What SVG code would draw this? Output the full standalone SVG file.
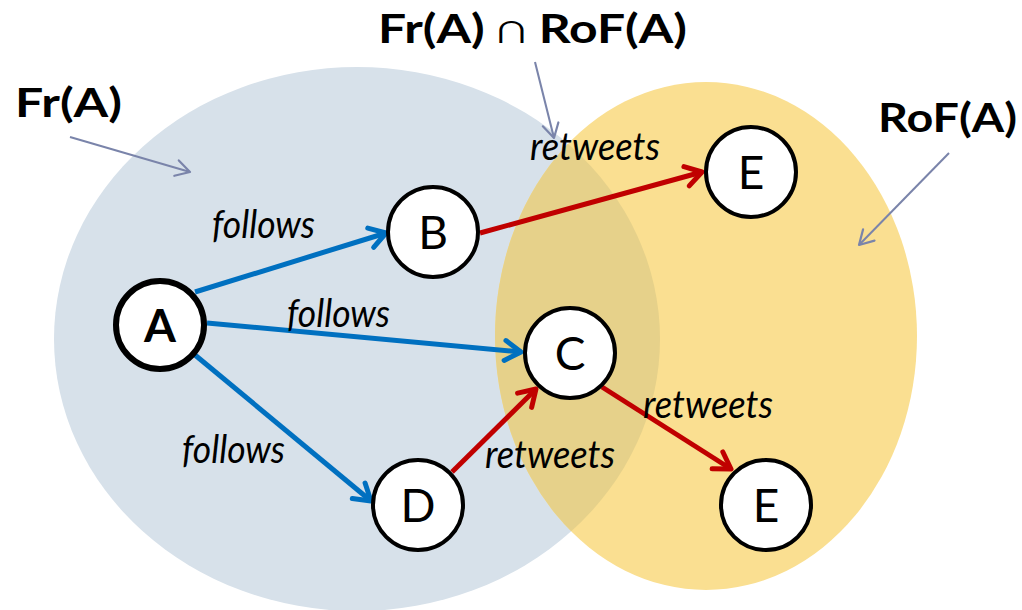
<svg xmlns="http://www.w3.org/2000/svg" width="1022" height="610" viewBox="0 0 1022 610">
  <style>
    .set-label { font-family: Lato, "Liberation Sans", sans-serif; font-weight: bold; font-size: 40px; fill: #000; }
    .edge-label { font-family: Lato, "Liberation Sans", sans-serif; font-style: italic; font-size: 38px; fill: #000; }
    .node circle { fill: #fff; stroke: #000; stroke-width: 4; }
    .node text { font-family: Lato, "Liberation Sans", sans-serif; font-size: 46px; fill: #000; text-anchor: middle; }
    .follows { stroke: #0070C0; stroke-width: 5; fill: none; marker-end: url(#arrow-blue); }
    .retweets { stroke: #C00000; stroke-width: 5; fill: none; marker-end: url(#arrow-red); }
    .pointer { stroke: #7A84AA; stroke-width: 2; fill: none; marker-end: url(#arrow-pointer); }
  </style>
  <defs>
    <marker id="arrow-blue" markerUnits="userSpaceOnUse" viewBox="0 0 26 26" markerWidth="26" markerHeight="26" refX="22" refY="13" orient="auto">
      <path d="M6,3 L22,13 L6,23" fill="none" stroke="#0070C0" stroke-width="5" stroke-linecap="round" stroke-linejoin="round"/>
    </marker>
    <marker id="arrow-red" markerUnits="userSpaceOnUse" viewBox="0 0 26 26" markerWidth="26" markerHeight="26" refX="22" refY="13" orient="auto">
      <path d="M6,3 L22,13 L6,23" fill="none" stroke="#C00000" stroke-width="5" stroke-linecap="round" stroke-linejoin="round"/>
    </marker>
    <marker id="arrow-pointer" markerUnits="userSpaceOnUse" viewBox="0 0 20 20" markerWidth="20" markerHeight="20" refX="18" refY="10" orient="auto">
      <path d="M4,2 L18,10 L4,18" fill="none" stroke="#7A84AA" stroke-width="2.2" stroke-linecap="round" stroke-linejoin="round"/>
    </marker>
    <clipPath id="fr-clip">
      <ellipse cx="357" cy="339" rx="303" ry="272"/>
    </clipPath>
  </defs>

  <rect width="1022" height="610" fill="#fff"/>

  <!-- set regions -->
  <g id="sets">
    <ellipse id="fr-set" cx="357" cy="339" rx="303" ry="272" fill="#D7E1EA"/>
    <ellipse id="rof-set" cx="706" cy="336" rx="211" ry="254" fill="#FADF91"/>
    <ellipse id="overlap" cx="706" cy="336" rx="211" ry="254" fill="#E6D18A" clip-path="url(#fr-clip)"/>
  </g>

  <!-- set labels and their pointers -->
  <g id="set-labels">
    <text class="set-label" x="15" y="117" textLength="107" lengthAdjust="spacingAndGlyphs">Fr(A)</text>
    <text class="set-label" x="378" y="43" textLength="309" lengthAdjust="spacingAndGlyphs">Fr(A) <tspan font-weight="normal">∩</tspan> RoF(A)</text>
    <text class="set-label" x="878" y="132" textLength="139" lengthAdjust="spacingAndGlyphs">RoF(A)</text>
    <line class="pointer" x1="70" y1="137" x2="190" y2="172"/>
    <line class="pointer" x1="535" y1="62" x2="554" y2="138"/>
    <line class="pointer" x1="949" y1="153" x2="859" y2="245"/>
  </g>

  <!-- connectors -->
  <g id="connectors">
    <line class="follows" x1="195" y1="292" x2="386" y2="233"/>
    <line class="follows" x1="207" y1="323" x2="521" y2="352"/>
    <line class="follows" x1="195" y1="355" x2="371" y2="501"/>
    <line class="retweets" x1="480" y1="233" x2="702" y2="172"/>
    <line class="retweets" x1="452" y1="472" x2="536" y2="389"/>
    <line class="retweets" x1="602" y1="387" x2="731" y2="469"/>
  </g>

  <!-- connector labels -->
  <g id="edge-labels">
    <text class="edge-label" x="212" y="238" textLength="103" lengthAdjust="spacingAndGlyphs">follows</text>
    <text class="edge-label" x="287" y="327" textLength="103" lengthAdjust="spacingAndGlyphs">follows</text>
    <text class="edge-label" x="182" y="463" textLength="103" lengthAdjust="spacingAndGlyphs">follows</text>
    <text class="edge-label" x="530" y="160" textLength="130" lengthAdjust="spacingAndGlyphs">retweets</text>
    <text class="edge-label" x="485" y="468" textLength="130" lengthAdjust="spacingAndGlyphs">retweets</text>
    <text class="edge-label" x="643" y="418" textLength="130" lengthAdjust="spacingAndGlyphs">retweets</text>
  </g>

  <!-- nodes -->
  <g id="node-A" class="node">
    <circle cx="160" cy="325" r="44" style="stroke-width:6"/>
    <text x="160" y="342" font-weight="bold">A</text>
  </g>
  <g id="node-B" class="node">
    <circle cx="433" cy="232" r="45"/>
    <text x="433" y="249">B</text>
  </g>
  <g id="node-C" class="node">
    <circle cx="570" cy="353" r="45"/>
    <text x="570" y="370">C</text>
  </g>
  <g id="node-D" class="node">
    <circle cx="418" cy="505" r="45"/>
    <text x="418" y="522">D</text>
  </g>
  <g id="node-E1" class="node">
    <circle cx="751" cy="172" r="45"/>
    <text x="751" y="189">E</text>
  </g>
  <g id="node-E2" class="node">
    <circle cx="766" cy="505" r="45"/>
    <text x="766" y="522">E</text>
  </g>
</svg>
